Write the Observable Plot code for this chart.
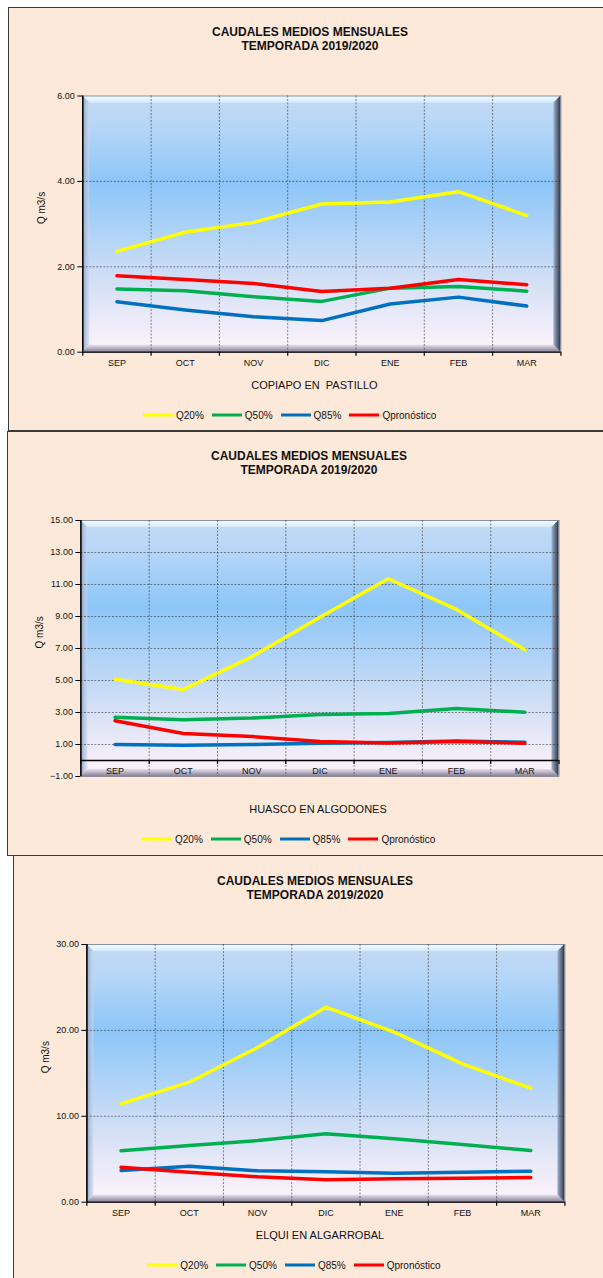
<!DOCTYPE html>
<html>
<head>
<meta charset="utf-8">
<script src="https://cdn.jsdelivr.net/npm/d3@7"></script>
<script src="https://cdn.jsdelivr.net/npm/@observablehq/plot@0.6"></script>
<style>
html,body{margin:0;padding:0;overflow:hidden;background:#fff}
body{width:603px;height:1278px;position:relative;font-family:"Liberation Sans",Arial,sans-serif;color:#111}
.panel{position:absolute;background:#fde9d9;border:1px solid #3a3a3a;overflow:hidden}
.panel svg{position:absolute;left:0;top:0;max-width:none!important}
.title{position:absolute;font-weight:bold;font-size:12px;line-height:14px;text-align:center;transform:translate(-50%,-50%);white-space:nowrap}
.station{position:absolute;font-size:11px;transform:translate(-50%,-50%);white-space:pre}
.legend{position:absolute;font-size:10px;display:flex;align-items:center;transform:translateY(-50%);white-space:nowrap}
.legend .item{display:flex;align-items:center;margin-right:8px}
.legend .sw{display:inline-block;width:30px;height:3px;margin-right:3px}
</style>
</head>
<body>
<script>
// ---------- data ----------
const months = ["SEP", "OCT", "NOV", "DIC", "ENE", "FEB", "MAR"];
const seriesNames = ["Q20%", "Q50%", "Q85%", "Qpronóstico"];
const seriesColors = ["#ffff00", "#00b050", "#0070c0", "#ff0000"];
const titleLines = ["CAUDALES MEDIOS MENSUALES", "TEMPORADA 2019/2020"];
const yLabel = ["Q m3/s"];

const stations = ["COPIAPO EN  PASTILLO", "HUASCO EN ALGODONES", "ELQUI EN ALGARROBAL"];

const copiapoQ20 = [2.36, 2.81, 3.04, 3.47, 3.52, 3.76, 3.20];
const copiapoQ50 = [1.48, 1.44, 1.30, 1.19, 1.50, 1.54, 1.43];
const copiapoQ85 = [1.18, 0.99, 0.83, 0.74, 1.13, 1.29, 1.08];
const copiapoQpron = [1.79, 1.70, 1.61, 1.42, 1.50, 1.70, 1.58];
const copiapoTicks = [0, 2, 4, 6];

const huascoQ20 = [5.08, 4.44, 6.48, 8.95, 11.36, 9.44, 6.92];
const huascoQ50 = [2.71, 2.54, 2.65, 2.87, 2.94, 3.25, 3.02];
const huascoQ85 = [1.00, 0.96, 1.00, 1.08, 1.12, 1.22, 1.14];
const huascoQpron = [2.48, 1.69, 1.50, 1.19, 1.10, 1.19, 1.08];
const huascoTicks = [-1, 1, 3, 5, 7, 9, 11, 13, 15];

const elquiQ20 = [11.45, 13.97, 18.0, 22.7, 19.8, 16.1, 13.27];
const elquiQ50 = [5.98, 6.60, 7.18, 7.96, 7.38, 6.72, 6.02];
const elquiQ85 = [3.69, 4.19, 3.65, 3.54, 3.38, 3.50, 3.61];
const elquiQpron = [4.08, 3.49, 2.95, 2.60, 2.72, 2.80, 2.87];
const elquiTicks = [0, 10, 20, 30];

// ---------- layout (styles/positions) ----------
const panels = [
  {id: "p1", left: 8, top: 7, h: 422, ml: 73.3, mr: 50.6, mt: 87.5, mb: 78.3, titleY: 30.7, stY: 377, stX: 305.4, lgY: 407.3, lgX: 134,
   series: [copiapoQ20, copiapoQ50, copiapoQ85, copiapoQpron], ticks: copiapoTicks, station: stations[0]},
  {id: "p2", left: 7, top: 431, h: 423, ml: 72.4, mr: 51.5, mt: 88, mb: 79, titleY: 31, stY: 377, stX: 310, lgY: 407.3, lgX: 134,
   series: [huascoQ20, huascoQ50, huascoQ85, huascoQpron], ticks: huascoTicks, station: stations[1]},
  {id: "p3", left: 13, top: 855, h: 430, ml: 72.4, mr: 51.6, mt: 88, mb: 84.3, titleY: 32, stY: 379, stX: 306, lgY: 409, lgX: 133.3,
   series: [elquiQ20, elquiQ50, elquiQ85, elquiQpron], ticks: elquiTicks, station: stations[2]}
];
const W = 602;

function bevel(id) {
  return (index, scales, values, dims) => {
    const L = dims.marginLeft, T = dims.marginTop;
    const R = dims.width - dims.marginRight, B = dims.height - dims.marginBottom;
    const b = 7;
    const g = d3.create("svg:g");
    const defs = g.append("defs");
    const grad = (name, x2, y2, stops) => {
      const lg = defs.append("linearGradient").attr("id", id + name)
        .attr("x1", 0).attr("y1", 0).attr("x2", x2).attr("y2", y2);
      stops.forEach(([o, c, op]) => lg.append("stop").attr("offset", o).attr("stop-color", c).attr("stop-opacity", op ?? 1));
    };
    grad("bg", 0, 1, [[0, "#c4daf3"], [0.12, "#b6d6f7"], [0.34, "#8cc6f8"], [0.55, "#b2d4f7"], [0.7, "#cedef5"], [0.85, "#e8e9f8"], [1, "#fff3fb"]]);
    grad("top", 0, 1, [[0, "#f2fbff"], [1, "#d6ecfb"]]);
    grad("left", 1, 0, [[0, "#8f9fc0"], [1, "#c8daf2", 0.6]]);
    grad("right", 1, 0, [[0, "#9fb3d0"], [1, "#2e3545"]]);
    grad("bot", 0, 1, [[0, "#e6e0ec"], [1, "#8a8296"]]);
    g.append("rect").attr("x", L).attr("y", T).attr("width", R - L).attr("height", B - T).attr("fill", `url(#${id}bg)`);
    const poly = (pts, fill) => g.append("polygon").attr("points", pts.map(p => p.join(",")).join(" ")).attr("fill", fill);
    poly([[L, T], [R, T], [R - b, T + b], [L + b, T + b]], `url(#${id}top)`);
    poly([[L, T], [L + b, T + b], [L + b, B - b], [L, B]], `url(#${id}left)`);
    poly([[L, B], [R, B], [R - b, B - b], [L + b, B - b]], `url(#${id}bot)`);
    poly([[R, T], [R, B], [R - b, B - b], [R - b, T + b]], `url(#${id}right)`);
    return g.node();
  };
}

panels.forEach(p => {
  const div = document.createElement("div");
  div.className = "panel";
  Object.assign(div.style, {left: p.left + "px", top: p.top + "px", width: W + "px", height: p.h + "px"});
  document.body.appendChild(div);

  const rows = [];
  seriesNames.forEach((name, s) => p.series[s].forEach((v, i) => rows.push({i, month: months[i], value: v, series: name})));
  const yDomain = d3.extent(p.ticks);
  const yMax = yDomain[1];
  const gridTicks = p.ticks.filter(t => t > 0 && t < yMax);

  const chart = Plot.plot({
    width: W, height: p.h,
    marginLeft: p.ml, marginRight: p.mr, marginTop: p.mt, marginBottom: p.mb,
    x: {domain: [0, months.length], axis: null},
    y: {domain: yDomain, axis: null},
    color: {domain: seriesNames, range: seriesColors},
    style: {background: "transparent", fontFamily: "'Liberation Sans', Arial, sans-serif", color: "#111", overflow: "visible"},
    marks: [
      bevel(p.id),
      Plot.frame({stroke: "#6f7888", strokeWidth: 0.8}),
      Plot.ruleY(gridTicks, {stroke: "#2a2a2a", strokeOpacity: 0.55, strokeDasharray: "2,1.5", strokeWidth: 1}),
      Plot.ruleX(d3.range(1, months.length), {stroke: "#2a2a2a", strokeOpacity: 0.55, strokeDasharray: "2,1.5", strokeWidth: 1}),
      Plot.ruleY([0], {stroke: "#000", strokeWidth: 1.3}),
      Plot.ruleX(d3.range(0, months.length + 1), {y1: 0, y2: 0, insetBottom: -4, stroke: "#000", strokeWidth: 1.2}),
      Plot.ruleX([0], {stroke: "#000", strokeWidth: 1.5}),
      Plot.axisY({ticks: p.ticks, tickFormat: d3.format(".2f"), tickSize: 5, tickPadding: 3, fontSize: 9, label: null, stroke: "#000"}),
      Plot.text(months, {x: (d, i) => i + 0.5, y: 0, dy: 10.6, text: d => d, fontSize: 9, fill: "#111"}),
      Plot.line(rows, {x: d => d.i + 0.5, y: "value", stroke: "series", z: "series", strokeWidth: 3.5, curve: "linear"}),
      Plot.text(yLabel, {frameAnchor: "left", dx: -41.5, rotate: -90, text: d => d, fontSize: 10, fill: "#111"})
    ]
  });
  div.appendChild(chart);

  const t = document.createElement("div");
  t.className = "title";
  t.innerHTML = titleLines.join("<br>");
  Object.assign(t.style, {left: "301px", top: p.titleY + "px"});
  div.appendChild(t);

  const st = document.createElement("div");
  st.className = "station";
  st.textContent = p.station;
  Object.assign(st.style, {left: p.stX + "px", top: p.stY + "px"});
  div.appendChild(st);

  const lg = document.createElement("div");
  lg.className = "legend";
  Object.assign(lg.style, {left: p.lgX + "px", top: p.lgY + "px"});
  seriesNames.forEach((n, k) => {
    const it = document.createElement("span");
    it.className = "item";
    const sw = document.createElement("span");
    sw.className = "sw";
    sw.style.background = seriesColors[k];
    const tx = document.createElement("span");
    tx.textContent = n;
    it.appendChild(sw); it.appendChild(tx);
    lg.appendChild(it);
  });
  div.appendChild(lg);
});
</script>
</body>
</html>
